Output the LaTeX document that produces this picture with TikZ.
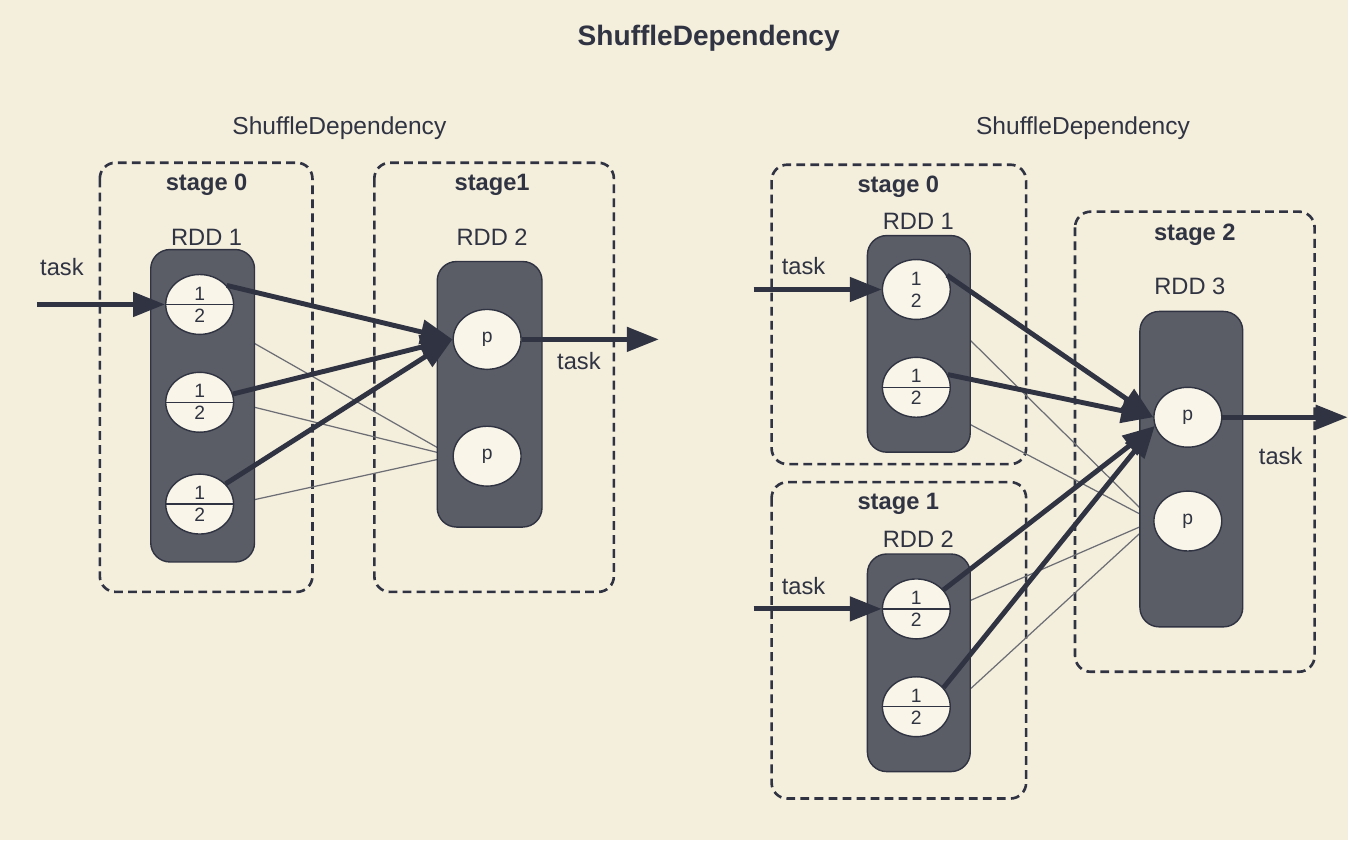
\documentclass[tikz,border=0pt]{standalone}
\usepackage{fontspec}
\setmainfont{Liberation Sans}
\usetikzlibrary{shapes.geometric,arrows.meta}
\definecolor{paper}{RGB}{244,238,221}
\definecolor{ink}{RGB}{48,52,66}
\definecolor{rddgray}{RGB}{90,93,102}
\definecolor{cellfill}{RGB}{249,245,232}
\definecolor{wire}{RGB}{108,110,116}
\pgfdeclarelayer{bg}
\pgfdeclarelayer{wires}
\pgfsetlayers{bg,wires,main}
\tikzset{
	stagebox/.style={draw=ink, line width=1.5pt, rounded corners=9pt, dash pattern=on 5pt off 3pt},
	rddbox/.style={draw=ink, fill=rddgray, rounded corners=11pt, line width=0.8pt},
	part/.style={ellipse, draw=ink, fill=cellfill, line width=0.8pt, minimum width=1.36cm, minimum height=1.2cm, inner sep=0pt, align=center, text=ink, font=\fontsize{11}{12.5}\selectfont},
	shuffle/.style={draw=ink, line width=2.8pt, -{Triangle[length=0.64cm,width=0.48cm]}},
	narrow/.style={draw=wire, line width=0.7pt},
	lbl/.style={text=ink, font=\fontsize{13.5}{16}\selectfont},
	blbl/.style={text=ink, font=\bfseries\fontsize{13.5}{16}\selectfont},
}
\begin{document}
\begin{tikzpicture}[x=0.02cm, y=-0.02cm]
		\begin{pgfonlayer}{bg}
			\fill[paper] (0,0) rectangle (1350,842);
			\draw[stagebox] (100,163) rectangle (313,593);
			\draw[stagebox] (375,163) rectangle (615,593);
			\draw[stagebox] (773,165) rectangle (1028,465);
			\draw[stagebox] (773,483) rectangle (1028,800);
			\draw[stagebox] (1077,212) rectangle (1317,673);
		\end{pgfonlayer}
		\node[text=ink, font=\bfseries\fontsize{16}{19}\selectfont] (title) at (710,38) {ShuffleDependency};
		\node[text=ink, font=\fontsize{14}{17}\selectfont] (depl) at (340,128) {ShuffleDependency};
		\node[text=ink, font=\fontsize{14}{17}\selectfont] (depr) at (1085,128) {ShuffleDependency};
		
		% left: stage 0 -> stage1
		\begin{scope}
			\node[blbl] (st0) at (207,185) {stage 0};
			\node[lbl] (rdd1) at (207,238) {RDD 1};
			\node[blbl] (st1) at (493,185) {stage1};
			\node[lbl] (rdd2) at (493,238) {RDD 2};
			\draw[rddbox] (151,250) rectangle (255,563);
			\draw[rddbox] (438,262) rectangle (543,528);
			
			\foreach \y [count=\i] in {305,403,505} {
				\node[part] (l\i) at (200,\y) {1\\2};
				\draw[ink, line width=0.8pt] (l\i.west) -- (l\i.east);
			}
			\node[part] (q1) at (488,340) {p};
			\node[part] (q2) at (488,457) {p};
			
			\begin{pgfonlayer}{wires}
				\draw[narrow] (l1.south east) -- (q2.west);
				\draw[narrow] (l2.east) -- (q2.west);
				\draw[narrow] (l3.east) -- (q2.west);
			\end{pgfonlayer}
			
			\draw[shuffle] (l1.35) -- (q1.west);
			\draw[shuffle] (l2) -- (q1.west);
			\draw[shuffle] (l3.38) -- (q1.west);
			
			\coordinate (inl) at (37,305);
			\coordinate (outl) at (660,340);
			\node[lbl] (taskin) at (62,268) {task};
			\node[lbl] (taskout) at (580,362) {task};
			\draw[shuffle] (inl) -- (l1.west);
			\draw[shuffle] (q1.east) -- (outl);
		\end{scope}
		
		% right: stage 0 + stage 1 -> stage 2
		\begin{scope}
			\node[blbl] (sr0) at (900,187) {stage 0};
			\node[lbl] (rrdd1) at (920,222) {RDD 1};
			\node[blbl] (sr1) at (900,505) {stage 1};
			\node[lbl] (rrdd2) at (920,540) {RDD 2};
			\node[blbl] (sr2) at (1197,235) {stage 2};
			\node[lbl] (rrdd3) at (1192,287) {RDD 3};
			\draw[rddbox] (869,236) rectangle (972,453);
			\draw[rddbox] (869,555) rectangle (972,773);
			\draw[rddbox] (1142,312) rectangle (1245,628);
			
			\node[part] (r1) at (918,290) {1\\2};
			\node[part] (r2) at (918,388) {1\\2};
			\draw[ink, line width=0.8pt] (r2.west) -- (r2.east);
			\foreach \y [count=\i] in {610,708} {
				\node[part] (s\i) at (918,\y) {1\\2};
				\draw[ink, line width=0.8pt] (s\i.west) -- (s\i.east);
			}
			\node[part] (t1) at (1190,418) {p};
			\node[part] (t2) at (1190,522) {p};
			
			\begin{pgfonlayer}{wires}
				\draw[narrow] (r1.south east) -- (t2.west);
				\draw[narrow] (r2.south east) -- (t2.west);
				\draw[narrow] (s1.east) -- (t2.west);
				\draw[narrow] (s2.east) -- (t2.west);
			\end{pgfonlayer}
			
			\draw[shuffle] (r1.25) -- (t1.west);
			\draw[shuffle] (r2.22) -- (t1.west);
			\draw[shuffle] (s1.35) -- (t1.195);
			\draw[shuffle] (s2.35) -- (t1.195);
			
			\coordinate (inr0) at (755,290);
			\coordinate (inr1) at (755,610);
			\coordinate (outr) at (1350,418);
			\node[lbl] (taskr0) at (805,267) {task};
			\node[lbl] (taskr1) at (805,587) {task};
			\node[lbl] (taskr2) at (1283,457) {task};
			\draw[shuffle] (inr0) -- (r1.west);
			\draw[shuffle] (inr1) -- (s1.west);
			\draw[shuffle] (t1.east) -- (outr);
		\end{scope}
\end{tikzpicture}
\end{document}
